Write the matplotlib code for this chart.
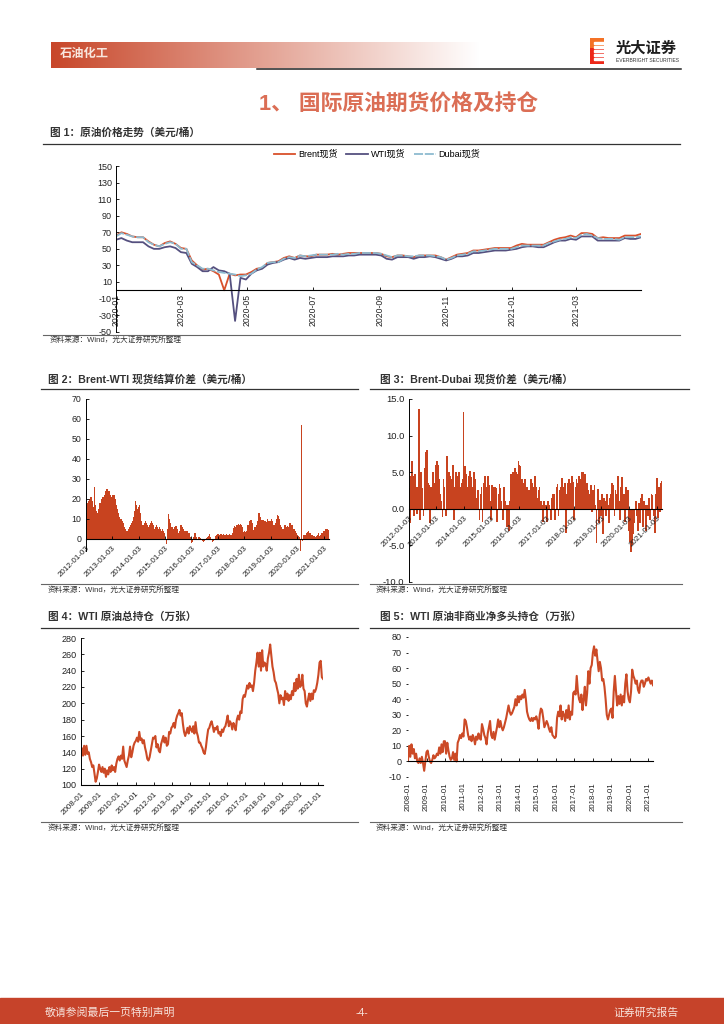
import numpy as np
import pandas as pd
import matplotlib
matplotlib.use("Agg")
import matplotlib.pyplot as plt
from matplotlib.patches import Rectangle

FONT = ['Liberation Sans', 'Noto Sans CJK SC', 'DejaVu Sans']
plt.rcParams['font.family'] = FONT
plt.rcParams['axes.unicode_minus'] = False

# ---------- Chart 1: spot prices, one reading every five days from 2020-01-01
brent = [66,70,68,65,64,64,59,55,53,57,59,56,51,50,36,30,25,26,23,19,0,20,18,19,19,22,26,27,33,34,35,
         39,41,39,42,41,41,43,43,43,44,43,44,45,45,45,45,45,45,44,41,40,42,42,41,40,42,42,42,42,40,37,40,
         43,44,45,48,48,49,50,51,51,51,51,54,56,55,55,55,55,58,61,63,64,66,64,69,69,68,63,64,63,63,63,66,66,66,68]
wti = [61,63,60,58,58,58,53,50,50,52,53,51,46,45,32,28,23,23,28,24,23,20,-37,15,13,20,24,26,31,33,34,
       37,39,37,39,38,39,40,40,40,41,41,41,42,42,43,43,43,43,42,38,37,40,40,40,38,40,40,41,40,38,36,38,
       41,41,42,45,45,46,47,48,48,48,49,50,52,53,53,52,52,55,58,60,60,62,61,65,65,65,60,60,60,60,60,63,62,62,64]
dubai = [65,69,67,65,64,64,58,55,53,56,58,56,50,50,34,30,26,26,24,22,21,20,19,17,18,20,25,28,33,34,34,
         38,40,39,42,41,42,43,43,43,43,44,43,44,44,45,45,45,45,44,42,40,42,42,41,41,42,42,42,41,40,37,39,
         42,43,44,47,47,48,49,50,50,50,50,52,54,54,54,54,54,57,59,61,62,64,63,67,68,66,63,62,62,62,61,64,64,64,65]
price_ticks = ['2020-01', '2020-03', '2020-05', '2020-07', '2020-09', '2020-11', '2021-01', '2021-03']

# ---------- Chart 2: Brent-WTI spread, one reading every two weeks from 2012-01-03
brent_wti = [10,13,18,19,20,21,21,19,16,26,17,14,13,15,18,18,20,21,19,22,24,25,23,24,22,20,
             21,22,22,20,17,15,13,11,10,10,9,8,6,5,4,4,5,6,7,8,9,11,14,19,17,15,
             16,17,13,9,7,7,8,9,8,7,6,7,8,9,8,7,5,6,7,6,5,6,5,4,5,4,
             3,0,-2.5,5,12.5,10,8,6,6,5,6,6.5,5,3,2,4,7,6,5,4,4,3,4,2,3,1,
             -2,-1.5,1,3,3,1,0,1,1,0.5,0,-1,-1.5,-1,0,0.5,1,1.5,2.5,1,0,-1.5,-1,0,1.5,2,
             2.5,2.5,2,2.5,2.5,2,2.5,2,2,2.5,2,2,2.5,2,2,3,5.5,6.5,6,7,7,7.5,7,7.5,7,6,
             3.5,4,3.5,4,7,7,9,9.5,8,4,4.5,6,6,7,9,13,11,9.5,9,9.5,9,9,8.5,10,9,9,
             9,10,9,7,7,8,10,12,11.5,10,7,6,5,5,7,7,6,6.5,6,8,8,7,7,5,5,4,
             3,2,1.5,1,-6,57,-1,2,2,2,3,3.5,4,3,3,2,2,1.5,1.5,1,1.5,2,3,1.5,2,3,
             3,4,4,5,5,4.5,4]

# ---------- Chart 3: Brent-Dubai spread, one reading every two weeks from 2012-01-03
brent_dubai = [2.8,-2,4.4,6.5,4.5,-1,4.8,3,-0.8,3,13.7,-1.5,5,2.8,-1,5.5,7.8,8,3.5,3.2,-2,3,2.8,5,3.5,1,
               6,6.5,6,4,2,1,-1.2,4,3,-1,7.2,4,5,4.5,2,4,6,-1.5,3,5,4,4.5,5,3,3.5,4,
               13.2,5.8,4.8,3,2,4.5,5.2,4.3,1.5,3,5,4,1.5,0.5,2.5,-1.5,2,3,-1.8,3.5,4.5,3,1.5,4.5,3.2,1,
               -1.5,3.2,3,2.5,3,2.8,-1.8,2,3.4,2.8,1,-1.5,3,1,0.5,-2.5,0.5,-3,1,4.7,4,5,4.5,5.5,5,4.8,
               6.5,6,5.8,4,3.5,3,4,2,3,2.5,-0.2,2.5,4,3.5,2,3,4.5,3,1.5,2.5,3,1,0.5,-1.8,1,0.5,
               0.5,-1.8,1,0.5,0,-1.5,1.5,2,2,-1.5,3,3.4,-1,2.5,3,4.2,3,2.5,3.5,-3.3,2,3.5,4,3,3.5,4.4,
               3.6,-1.5,3,4,3.5,4.5,3,4,5,5,3.5,4.8,3,3.5,2.5,2,1.8,3.2,-0.5,2.5,3.3,0.5,-4.7,2.7,-2,1.2,
               -1,2,-3.5,1.5,1,-1,2,0.5,-2,1.5,2,3.5,3.2,-1,2.5,2,4.4,1,-1.5,3,4.3,1,2,-1.8,3,1,
               2.5,-3,-4.5,-6,-5,-3.5,-2,1,-1,-3,0.8,-2,1.5,2,-2.5,1,0.5,-3,0.5,-1,1.5,-1.5,2,1.9,-1,-3.4,
               2,4.2,-1.3,3,-0.5,3.5,3.8]
spread_ticks = ['2012-01-03', '2013-01-03', '2014-01-03', '2015-01-03', '2016-01-03',
                '2017-01-03', '2018-01-03', '2019-01-03', '2020-01-03', '2021-01-03']

# ---------- Chart 4: WTI total open interest, sixteen readings per year from 2008
open_interest = [134,145,136,148,137,148,138,140,132,128,122,124,114,104,108,116,
                 125,120,116,122,115,120,110,118,113,122,116,124,118,122,116,126,
                 132,135,130,136,132,147,130,126,122,130,136,147,134,140,148,152,
                 154,158,153,165,155,157,151,155,146,140,132,130,134,142,150,158,
                 157,160,146,150,142,140,150,155,160,152,158,148,150,165,163,170,
                 172,176,170,180,185,188,192,185,188,175,165,160,165,170,163,172,
                 168,165,172,163,177,165,160,152,152,148,145,140,138,146,158,168,
                 170,175,178,172,165,170,168,172,163,165,160,168,165,170,172,178,
                 185,172,178,175,168,176,172,167,180,185,180,190,188,205,210,208,
                 215,222,218,225,220,222,215,225,240,250,262,245,262,240,265,245,
                 250,248,240,255,262,272,258,245,238,228,225,218,212,200,210,205,
                 207,198,215,205,212,203,210,205,215,210,225,215,230,218,235,220,
                 222,235,218,215,200,196,205,212,203,212,205,216,214,218,225,235,
                 250,252,232,230]

# ---------- Chart 5: WTI non-commercial net long, sixteen readings per year from 2008
net_long = [1,10,3,11,5,8,2,5,0,-1,2,-1,3,-1,-6,0,
            6,7,3,0,-1,1,4,2,3,5,4,9,5,11,6,13,
            13,5,12,7,3,1,2,6,1,5,0,12,14,17,15,18,
            16,27,26,22,17,14,16,13,17,15,11,16,14,18,15,14,
            24,21,17,15,11,18,22,26,17,15,19,14,18,22,27,22,
            26,22,20,22,25,28,32,36,32,30,31,33,35,40,36,42,
            38,42,40,43,41,46,40,32,29,27,26,28,26,28,27,29,
            26,21,30,34,33,28,22,24,26,24,21,19,22,17,16,15,
            16,28,32,29,36,27,32,30,26,33,28,36,27,32,30,44,
            45,43,55,45,40,38,43,33,40,48,36,44,58,50,60,62,
            70,74,68,72,65,58,64,60,52,53,48,40,30,27,30,33,
            34,28,45,55,45,36,42,37,43,36,42,38,50,56,45,40,
            38,45,59,55,53,50,52,46,44,50,52,52,48,50,53,52,
            54,52,50,52,49]
year_ticks = ['%d-01' % y for y in range(2008, 2022)]

RED = '#C8431F'
LINE_RED = '#CC4A26'
DARK = '#2B2B2B'
W, H = 724, 1024

fig = plt.figure(figsize=(W / 100, H / 100), dpi=100)
page = fig.add_axes([0, 0, 1, 1], zorder=0)
page.axis('off')


def panel(left, right, top, bottom):
    return fig.add_axes([left / W, 1 - bottom / H, (right - left) / W, (bottom - top) / H], zorder=2)


def style(ax, ymin, ymax, yticks, ylabels, size=6.3):
    ax.set_ylim(ymin, ymax)
    ax.set_yticks(yticks)
    ax.set_yticklabels(ylabels, fontsize=size, color='#222222')
    ax.spines['top'].set_visible(False)
    ax.spines['right'].set_visible(False)
    ax.spines['left'].set_linewidth(0.7)
    ax.spines['bottom'].set_linewidth(0.8)
    ax.patch.set_alpha(0)
    ax.tick_params(axis='y', length=2, width=0.6, direction='in', pad=3)
    ax.tick_params(axis='x', length=2, width=0.6, direction='in')


def dated_ticks(ax, labels, rotation, pad, size=5.8):
    ax.set_xticks(pd.to_datetime(labels))
    if rotation == 90:
        ax.set_xticklabels(labels, rotation=90, ha='center', va='top', fontsize=size, color='#222222')
    else:
        ax.set_xticklabels(labels, rotation=rotation, ha='right', va='top',
                           rotation_mode='anchor', fontsize=size, color='#222222')
    ax.tick_params(axis='x', pad=pad)


# ---------- Chart 1
ax1 = panel(116, 641, 166, 331.7)
d1 = pd.date_range('2020-01-01', periods=len(brent), freq='5D')
l1, = ax1.plot(d1, brent, color='#D9502B', lw=1.3, label='Brent现货')
l2, = ax1.plot(d1, wti, color='#55507F', lw=1.3, label='WTI现货')
l3, = ax1.plot(d1, dubai, color='#8DBBD0', lw=1.3, ls=(0, (5, 1)), label='Dubai现货')
ax1.set_xlim(d1[0], d1[-1])
style(ax1, -50, 150, list(range(-50, 151, 20)), [str(v) for v in range(-50, 151, 20)], 6.5)
ax1.spines['bottom'].set_position(('data', 0))
dated_ticks(ax1, price_ticks, 90, 3, 6.2)
fig.legend(handles=[l1, l2, l3], loc='center', bbox_to_anchor=(377 / W, 1 - 154 / H), ncol=3, frameon=False,
           fontsize=6.5, handlelength=2.4, handletextpad=0.3, columnspacing=1.0, borderpad=0)

# ---------- Chart 2
ax2 = panel(85.7, 329, 399, 539 + 30)
d2 = pd.date_range('2012-01-03', periods=len(brent_wti), freq='14D')
ax2.bar(d2, brent_wti, width=17, color=RED, linewidth=0)
ax2.set_xlim(pd.Timestamp('2012-01-03'), d2[-1])
style(ax2, -15, 70, list(range(0, 71, 10)), [str(v) for v in range(0, 71, 10)])
ax2.spines['bottom'].set_position(('data', 0))
ax2.spines['left'].set_bounds(-6, 70)
dated_ticks(ax2, spread_ticks, 45, 4)

# ---------- Chart 3
ax3 = panel(408.7, 662, 399, 581.7)
d3 = pd.date_range('2012-01-03', periods=len(brent_dubai), freq='14D')
ax3.bar(d3, brent_dubai, width=24, color=RED, linewidth=0)
ax3.set_xlim(pd.Timestamp('2012-01-03'), d3[-1])
dubai_yticks = [-10, -5, 0, 5, 10, 15]
style(ax3, -10, 15, dubai_yticks, ['%.1f' % v for v in dubai_yticks], 6.8)
ax3.spines['bottom'].set_position(('data', 0))
dated_ticks(ax3, spread_ticks, 45, 4)

# ---------- Chart 4
ax4 = panel(80.7, 323, 638, 785)
d4 = pd.date_range('2008-01-01', '2021-04-01', periods=len(open_interest))
ax4.plot(d4, open_interest, color=LINE_RED, lw=1.5)
ax4.set_xlim(pd.Timestamp('2008-01-01'), d4[-1])
style(ax4, 100, 280, list(range(100, 281, 20)), [str(v) for v in range(100, 281, 20)], 6.5)
dated_ticks(ax4, year_ticks, 45, 4)

# ---------- Chart 5
ax5 = panel(408, 653, 637, 777)
d5 = pd.date_range('2008-01-01', '2021-04-01', periods=len(net_long))
ax5.plot(d5, net_long, color=LINE_RED, lw=1.5)
ax5.set_xlim(pd.Timestamp('2008-01-01'), d5[-1])
style(ax5, -10, 80, list(range(-10, 81, 10)), [str(v) for v in range(-10, 81, 10)], 6.5)
ax5.spines['left'].set_visible(False)
ax5.tick_params(axis='y', direction='out', length=1.5, pad=3)
ax5.spines['bottom'].set_position(('data', 0))
dated_ticks(ax5, year_ticks, 90, 15, 5.6)

# ---------- Page furniture
band_start = np.array([[[0xC8 / 255, 0x47 / 255, 0x2A / 255]]])
ramp = np.linspace(0, 1, 256).reshape(1, -1, 1)
page.imshow(band_start + ramp * (1 - band_start), extent=(51, 480, 68, 42), aspect='auto', zorder=1)
logo = np.ones((26, 1, 3)) * np.array([0.93, 0.16, 0.10])
logo[:10, 0, :] = [0.96, 0.45, 0.15]
page.imshow(logo, extent=(590, 604, 64, 38), aspect='auto', zorder=1, interpolation='bilinear')
page.set_xlim(0, W)
page.set_ylim(H, 0)
for yy in (42, 46, 50, 54, 58):
    page.add_patch(Rectangle((594, yy), 13, 1.6, color='white', zorder=2))
page.add_patch(Rectangle((0, 998), W, 26, color='#C6432A', zorder=1))
page.plot([257, 681], [68.5, 68.5], color='#222222', lw=1.1)


def txt(x, y, s, size, color=DARK, weight='normal', ha='left'):
    page.text(x, y, s, fontsize=size, color=color, fontweight=weight, ha=ha, va='center', family=FONT, zorder=3)


txt(60, 54.5, '石油化工', 8.8, '#F8E6DE', 'bold')
txt(616, 49, '光大证券', 11, '#1E1E1E', 'bold')
txt(616, 60, 'EVERBRIGHT SECURITIES', 3.6, '#333333')
txt(259, 105, '1、 国际原油期货价格及持仓', 15.7, '#DB6E55', 'bold')

headers = [(50, 133, '图 1：原油价格走势（美元/桶）', 43, 680, 143.5, 335, 340, 50),
           (48, 379, '图 2：Brent-WTI 现货结算价差（美元/桶）', 41, 358, 389, 584, 590, 48),
           (380, 379, '图 3：Brent-Dubai 现货价差（美元/桶）', 370, 689, 389, 584, 590, 376),
           (48, 617, '图 4：WTI 原油总持仓（万张）', 41, 358, 628, 822, 828, 48),
           (380, 617, '图 5：WTI 原油非商业净多头持仓（万张）', 370, 689, 628, 822, 828, 376)]
for tx, ty, title, x0, x1, yline, ysrc, ytxt, sx in headers:
    txt(tx, ty, title, 7.7, '#333333', 'bold')
    page.plot([x0, x1], [yline, yline], color='#333333', lw=0.9)
    page.plot([x0, min(x1, 682)], [ysrc, ysrc], color='#666666', lw=0.8)
    txt(sx, ytxt, '资料来源：Wind，光大证券研究所整理', 5.5, '#333333')

txt(45, 1012.5, '敬请参阅最后一页特别声明', 7.8, '#F7E3DC')
txt(362, 1012.5, '-4-', 7.5, '#F7E3DC', ha='center')
txt(679, 1012.5, '证券研究报告', 7.8, '#F7E3DC', ha='right')

fig.savefig('out.png', dpi=100)
